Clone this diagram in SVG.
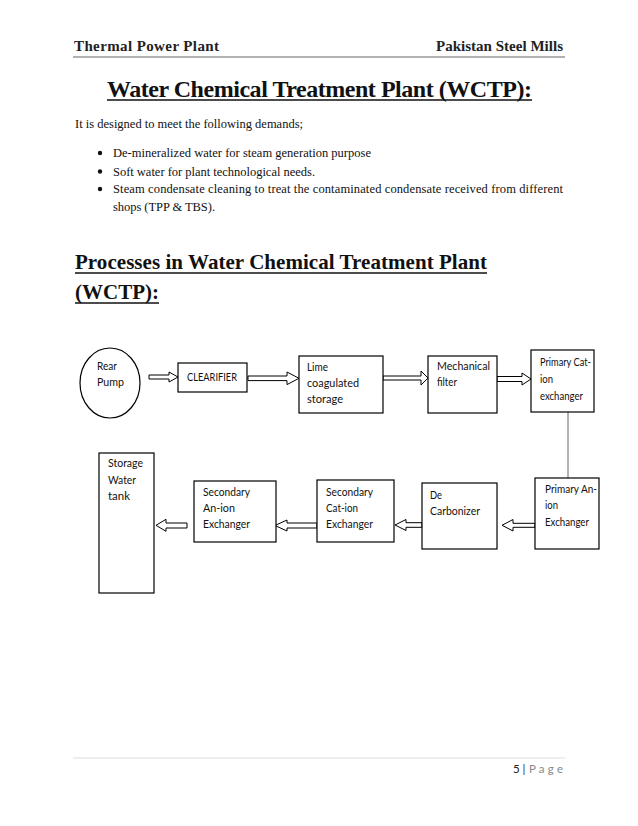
<svg xmlns="http://www.w3.org/2000/svg" width="638" height="826" viewBox="0 0 638 826">
<style>
.hdr{font-family:"Liberation Serif","Times New Roman",serif;font-weight:bold;font-size:15px;fill:#222}
.body{font-family:"Liberation Serif","Times New Roman",serif;font-size:12.5px;fill:#111}
.h1{font-family:"Liberation Serif","Times New Roman",serif;font-weight:bold;font-size:24px;fill:#111}
.h2{font-family:"Liberation Serif","Times New Roman",serif;font-weight:bold;font-size:21px;fill:#111}
.lbl{font-family:Lato,"Open Sans",sans-serif;font-size:10.5px;fill:#111}
.box{fill:#fff;stroke:#000;stroke-width:1.2}
.arr{fill:#fff;stroke:#000;stroke-width:1}
.ul{stroke:#111;stroke-width:1.5}
.ft{font-family:Lato,"Open Sans",sans-serif;font-size:11.5px}
</style>
<rect width="638" height="826" fill="#fff"/>
<!-- header -->
<text class="hdr" x="74" y="51" textLength="145">Thermal Power Plant</text>
<text class="hdr" x="436" y="51" textLength="127">Pakistan Steel Mills</text>
<line x1="73" y1="57" x2="565" y2="57" stroke="#999" stroke-width="1.5"/>
<!-- title -->
<text class="h1" x="107" y="97" textLength="425">Water Chemical Treatment Plant (WCTP):</text>
<line class="ul" x1="107" y1="100" x2="532" y2="100"/>
<text class="body" x="75" y="128" textLength="228">It is designed to meet the following demands;</text>
<g class="body">
<circle cx="100" cy="153" r="2.2" fill="#111"/>
<circle cx="100" cy="171.5" r="2.2" fill="#111"/>
<circle cx="100" cy="189" r="2.2" fill="#111"/>
<text x="113" y="157" textLength="258">De-mineralized water for steam generation purpose</text>
<text x="113" y="175.5" textLength="202">Soft water for plant technological needs.</text>
<text x="113" y="193" textLength="450">Steam condensate cleaning to treat the contaminated condensate received from different</text>
<text x="113" y="210.5" textLength="102">shops (TPP &amp; TBS).</text>
</g>
<text class="h2" x="75" y="269" textLength="412">Processes in Water Chemical Treatment Plant</text>
<line class="ul" x1="75" y1="273" x2="487" y2="273"/>
<text class="h2" x="75" y="299" textLength="84">(WCTP):</text>
<line class="ul" x1="75" y1="303" x2="159" y2="303"/>
<!-- connectors -->
<g id="connectors">
<path class="arr" d="M149,375 L169,375 L169,372 L178,377 L169,382 L169,379 L149,379 Z"/>
<path class="arr" d="M248,376 L287,376 L287,372 L299,378.3 L287,384.6 L287,380.6 L248,380.6 Z"/>
<path class="arr" d="M383,376 L421,376 L421,371 L428,378 L421,385 L421,380 L383,380 Z"/>
<path class="arr" d="M497,376.5 L522,376.5 L522,373 L531,379 L522,385 L522,381.5 L497,381.5 Z"/>
<line x1="568" y1="412" x2="568" y2="478" stroke="#666" stroke-width="1"/>
<path class="arr" d="M535,523.3 L513,523.3 L513,519.5 L502,525.3 L513,531 L513,527.3 L535,527.3 Z"/>
<path class="arr" d="M422,522.7 L406,522.7 L406,519.5 L395,525 L406,530.5 L406,527.3 L422,527.3 Z"/>
<path class="arr" d="M317,523 L287,523 L287,520 L275,525.5 L287,531 L287,528 L317,528 Z"/>
<path class="arr" d="M187,523 L166,523 L166,519.3 L156,525.3 L166,531.3 L166,528 L187,528 Z"/>
</g>
<!-- nodes -->
<g id="rear-pump">
<ellipse class="box" cx="110" cy="383" rx="30" ry="35"/>
<text class="lbl" x="97" y="370" textLength="20" lengthAdjust="spacingAndGlyphs">Rear</text>
<text class="lbl" x="97" y="386" textLength="27" lengthAdjust="spacingAndGlyphs">Pump</text>
</g>
<g id="clearifier">
<rect class="box" x="178" y="363" width="69" height="29"/>
<text class="lbl" x="187" y="381" textLength="50" lengthAdjust="spacingAndGlyphs">CLEARIFIER</text>
</g>
<g id="lime">
<rect class="box" x="299" y="356" width="84" height="57"/>
<text class="lbl" x="307" y="371" textLength="21" lengthAdjust="spacingAndGlyphs">Lime</text>
<text class="lbl" x="307" y="387" textLength="52" lengthAdjust="spacingAndGlyphs">coagulated</text>
<text class="lbl" x="307" y="403" textLength="36" lengthAdjust="spacingAndGlyphs">storage</text>
</g>
<g id="mechanical">
<rect class="box" x="428" y="356" width="69" height="57"/>
<text class="lbl" x="437" y="370" textLength="53" lengthAdjust="spacingAndGlyphs">Mechanical</text>
<text class="lbl" x="437" y="386" textLength="20" lengthAdjust="spacingAndGlyphs">filter</text>
</g>
<g id="primary-cat">
<rect class="box" x="531" y="350" width="63" height="62"/>
<text class="lbl" x="540" y="366" textLength="51" lengthAdjust="spacingAndGlyphs">Primary Cat-</text>
<text class="lbl" x="540" y="383" textLength="13" lengthAdjust="spacingAndGlyphs">ion</text>
<text class="lbl" x="540" y="400" textLength="43" lengthAdjust="spacingAndGlyphs">exchanger</text>
</g>
<g id="primary-an">
<rect class="box" x="535" y="478" width="64" height="71"/>
<text class="lbl" x="545" y="493" textLength="52" lengthAdjust="spacingAndGlyphs">Primary An-</text>
<text class="lbl" x="545" y="509" textLength="13" lengthAdjust="spacingAndGlyphs">ion</text>
<text class="lbl" x="545" y="526" textLength="44" lengthAdjust="spacingAndGlyphs">Exchanger</text>
</g>
<g id="decarbonizer">
<rect class="box" x="422" y="483" width="75" height="66"/>
<text class="lbl" x="430" y="499" textLength="12" lengthAdjust="spacingAndGlyphs">De</text>
<text class="lbl" x="430" y="515" textLength="50" lengthAdjust="spacingAndGlyphs">Carbonizer</text>
</g>
<g id="secondary-cat">
<rect class="box" x="317" y="480" width="77" height="62"/>
<text class="lbl" x="326" y="496" textLength="47" lengthAdjust="spacingAndGlyphs">Secondary</text>
<text class="lbl" x="326" y="512" textLength="32" lengthAdjust="spacingAndGlyphs">Cat-ion</text>
<text class="lbl" x="326" y="528" textLength="47" lengthAdjust="spacingAndGlyphs">Exchanger</text>
</g>
<g id="secondary-an">
<rect class="box" x="194" y="481" width="82" height="61"/>
<text class="lbl" x="203" y="496" textLength="47" lengthAdjust="spacingAndGlyphs">Secondary</text>
<text class="lbl" x="203" y="512" textLength="32" lengthAdjust="spacingAndGlyphs">An-ion</text>
<text class="lbl" x="203" y="528" textLength="47" lengthAdjust="spacingAndGlyphs">Exchanger</text>
</g>
<g id="storage">
<rect class="box" x="99" y="453" width="55" height="140"/>
<text class="lbl" x="108" y="467" textLength="35" lengthAdjust="spacingAndGlyphs">Storage</text>
<text class="lbl" x="108" y="484" textLength="28" lengthAdjust="spacingAndGlyphs">Water</text>
<text class="lbl" x="108" y="500" textLength="22" lengthAdjust="spacingAndGlyphs">tank</text>
</g>
<!-- footer -->
<line x1="73" y1="758" x2="565" y2="758" stroke="#ddd" stroke-width="1"/>
<text class="ft" x="513" y="773" fill="#222">5 |</text>
<text class="ft" x="529" y="773" fill="#888" textLength="34">P a g e</text>
</svg>
